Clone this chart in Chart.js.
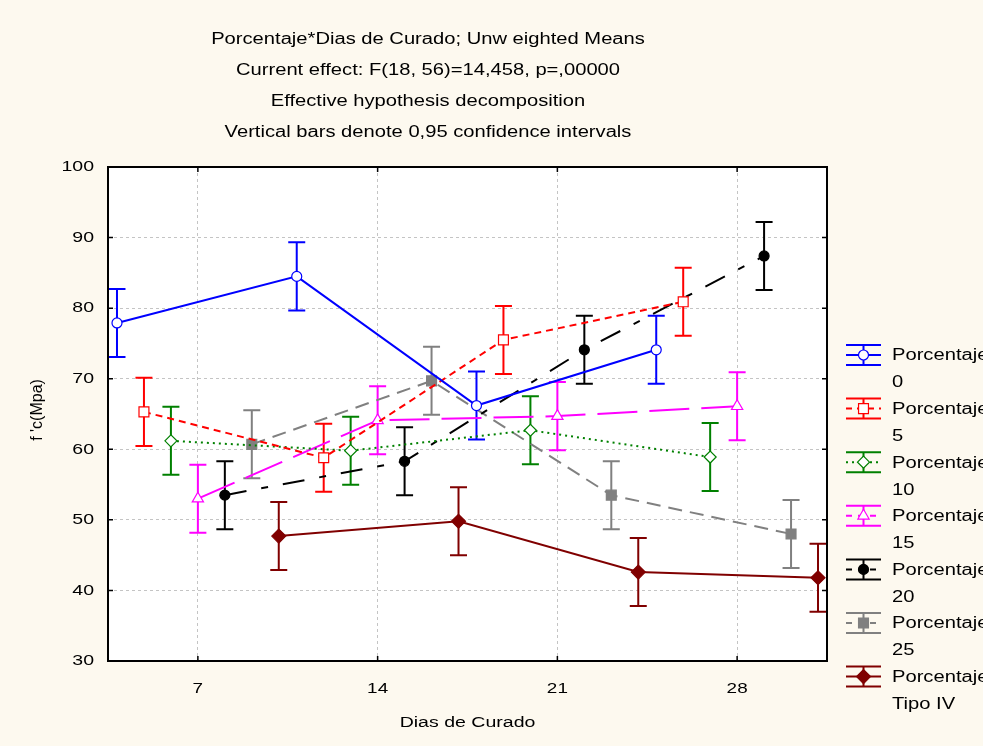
<!DOCTYPE html>
<html>
<head>
<meta charset="utf-8">
<script src="https://cdn.jsdelivr.net/npm/chart.js@4/dist/chart.umd.min.js"></script>
<style>
  body { margin: 0; background: #fdf9ef; }
  #wrap { width: 983px; height: 746px; }
</style>
</head>
<body>
<div id="wrap"><canvas id="myChart" width="983" height="746"></canvas></div>
<script>
const days = [7, 14, 21, 28];
const seriesNames = ["0", "5", "10", "15", "20", "25", "Tipo IV"];
const p0 = [77.9, 84.5, 66.2, 74.1];
const p5 = [65.3, 58.8, 75.5, 80.9];
const p10 = [61.2, 59.8, 62.7, 58.9];
const p15 = [53.0, 64.1, 64.7, 66.1];
const p20 = [53.5, 58.3, 74.1, 87.4];
const p25 = [60.7, 69.7, 53.5, 48.0];
const tipoIV = [47.7, 49.8, 42.6, 41.8];
const ciHalf = 4.82; // vertical bars = 0,95 confidence interval
const yTicks = [30, 40, 50, 60, 70, 80, 90, 100];
const titleLines = [
  "Porcentaje*Dias de Curado; Unw eighted Means",
  "Current effect: F(18, 56)=14,458, p=,00000",
  "Effective hypothesis decomposition",
  "Vertical bars denote 0,95 confidence intervals",
];

const FONT = '"Liberation Sans", Arial, sans-serif';
const SX = 1.26; // the original text is drawn wide

function wideText(ctx, text, x, y, align, size) {
  ctx.save();
  ctx.font = size + "px " + FONT;
  ctx.textBaseline = "middle";
  ctx.textAlign = "left";
  const w = ctx.measureText(text).width * SX;
  const left = align === "center" ? x - w / 2 : align === "right" ? x - w : x;
  ctx.translate(left, y);
  ctx.scale(SX, 1);
  ctx.fillText(text, 0, 0);
  ctx.restore();
}

const styles = [
  { color: "#0000ff", dash: [], point: "circle", r: 5, fill: "#ffffff" },
  { color: "#ff0000", dash: [7, 5], point: "rect", r: 7, fill: "#ffffff" },
  { color: "#008000", dash: [2, 4], point: "rectRot", r: 6, fill: "#ffffff" },
  { color: "#ff00ff", dash: [40, 12], point: "triangle", r: 6.5, fill: "#ffffff" },
  { color: "#000000", dash: [22, 15, 7, 15], point: "circle", r: 5, fill: "#000000" },
  { color: "#808080", dash: [14, 8], point: "rect", r: 7, fill: "#808080" },
  { color: "#800000", dash: [], point: "rectRot", r: 7, fill: "#800000" },
];

const allValues = [p0, p5, p10, p15, p20, p25, tipoIV];

// each group is spread sideways around its day so the bars don't overlap
const datasets = allValues.map((vals, i) => {
  const st = styles[i];
  const shift = (i - 3) * 1.05;
  return {
    label: "Porcentaje " + seriesNames[i],
    data: vals.map((v, j) => ({ x: days[j] + shift, y: v })),
    borderColor: st.color,
    borderWidth: 2,
    borderDash: st.dash,
    pointStyle: st.point,
    pointRadius: st.r,
    pointHoverRadius: st.r,
    pointBorderColor: st.color,
    pointBackgroundColor: st.fill,
    pointBorderWidth: 1.2,
    tension: 0,
  };
});

const errorBars = {
  id: "errorBars",
  beforeDatasetsDraw(chart) {
    const ctx = chart.ctx;
    const y = chart.scales.y;
    ctx.save();
    chart.data.datasets.forEach((ds, i) => {
      const meta = chart.getDatasetMeta(i);
      ctx.strokeStyle = ds.borderColor;
      ctx.lineWidth = 2;
      meta.data.forEach((pt, j) => {
        const v = ds.data[j].y;
        const top = y.getPixelForValue(v + ciHalf);
        const bot = y.getPixelForValue(v - ciHalf);
        ctx.beginPath();
        ctx.moveTo(pt.x, top); ctx.lineTo(pt.x, bot);
        ctx.moveTo(pt.x - 8.5, top); ctx.lineTo(pt.x + 8.5, top);
        ctx.moveTo(pt.x - 8.5, bot); ctx.lineTo(pt.x + 8.5, bot);
        ctx.stroke();
      });
    });
    ctx.restore();
  },
};

const decor = {
  id: "decor",
  beforeDraw(chart) {
    const a = chart.chartArea;
    const ctx = chart.ctx;
    ctx.save();
    ctx.fillStyle = "#fdf9ef";
    ctx.fillRect(0, 0, chart.width, chart.height);
    ctx.fillStyle = "#ffffff";
    ctx.fillRect(a.left, a.top, a.right - a.left, a.bottom - a.top);
    ctx.restore();
  },
  afterDraw(chart) {
    const a = chart.chartArea;
    const ctx = chart.ctx;
    const xs = chart.scales.x, ys = chart.scales.y;
    ctx.save();
    // frame and inner ticks
    ctx.strokeStyle = "#000";
    ctx.lineWidth = 2;
    ctx.strokeRect(a.left, a.top, a.right - a.left, a.bottom - a.top);
    ctx.lineWidth = 1.5;
    ctx.beginPath();
    xs.ticks.forEach(t => {
      const px = xs.getPixelForValue(t.value);
      ctx.moveTo(px, a.bottom); ctx.lineTo(px, a.bottom - 5);
      ctx.moveTo(px, a.top); ctx.lineTo(px, a.top + 5);
    });
    ys.ticks.forEach(t => {
      const py = ys.getPixelForValue(t.value);
      ctx.moveTo(a.left, py); ctx.lineTo(a.left + 5, py);
      ctx.moveTo(a.right, py); ctx.lineTo(a.right - 5, py);
    });
    ctx.stroke();

    // tick labels
    ctx.fillStyle = "#000";
    xs.ticks.forEach(t => wideText(ctx, String(t.value), xs.getPixelForValue(t.value), a.bottom + 28, "center", 15));
    ys.ticks.forEach(t => wideText(ctx, String(t.value), a.left - 14, ys.getPixelForValue(t.value), "right", 15.5));

    // titles
    titleLines.forEach((line, k) => wideText(ctx, line, 428, 40 + k * 30.7, "center", 16));
    wideText(ctx, "Dias de Curado", (a.left + a.right) / 2, 723, "center", 15.5);

    ctx.save();
    ctx.translate(38, 410);
    ctx.rotate(-Math.PI / 2);
    ctx.font = "16px " + FONT;
    ctx.textAlign = "center";
    ctx.textBaseline = "middle";
    ctx.fillText("f 'c(Mpa)", 0, 0);
    ctx.restore();

    // legend with error-bar glyphs
    chart.data.datasets.forEach((ds, i) => {
      const cy = 355 + i * 53.6;
      const x0 = 846, x1 = 881, xm = (x0 + x1) / 2;
      ctx.strokeStyle = ds.borderColor;
      ctx.lineWidth = 2;
      ctx.setLineDash([]);
      ctx.beginPath();
      ctx.moveTo(x0, cy - 10); ctx.lineTo(x1, cy - 10);
      ctx.moveTo(x0, cy + 10); ctx.lineTo(x1, cy + 10);
      ctx.moveTo(xm, cy - 10); ctx.lineTo(xm, cy + 10);
      ctx.stroke();
      ctx.setLineDash(ds.borderDash.map(d => Math.min(d, 6)));
      ctx.beginPath();
      ctx.moveTo(x0, cy); ctx.lineTo(x1, cy);
      ctx.stroke();
      ctx.setLineDash([]);
      ctx.fillStyle = ds.pointBackgroundColor;
      ctx.strokeStyle = ds.pointBorderColor;
      ctx.lineWidth = ds.pointBorderWidth;
      Chart.helpers.drawPoint(ctx, { pointStyle: ds.pointStyle, radius: ds.pointRadius, borderWidth: ds.pointBorderWidth }, xm, cy);
      ctx.fillStyle = "#000";
      wideText(ctx, "Porcentaje", 892, cy + 1, "left", 16);
      wideText(ctx, seriesNames[i], 892, cy + 28, "left", 16);
    });
    ctx.restore();
  },
};

new Chart(document.getElementById("myChart"), {
  type: "line",
  data: { datasets: datasets },
  options: {
    responsive: false,
    animation: false,
    layout: { padding: { left: 108, top: 167, right: 156, bottom: 85 } },
    plugins: { legend: { display: false }, title: { display: false }, tooltip: { enabled: false } },
    scales: {
      x: {
        type: "linear",
        min: 3.5,
        max: 31.5,
        afterBuildTicks: (scale) => { scale.ticks = days.map(v => ({ value: v })); },
        ticks: { display: false },
        grid: { color: "#c4c4c4", lineWidth: 1, drawTicks: false },
        border: { display: false, dash: [3, 3] },
      },
      y: {
        min: 30,
        max: 100,
        afterBuildTicks: (scale) => { scale.ticks = yTicks.map(v => ({ value: v })); },
        ticks: { display: false },
        grid: { color: "#c4c4c4", lineWidth: 1, drawTicks: false },
        border: { display: false, dash: [3, 3] },
      },
    },
  },
  plugins: [decor, errorBars],
});
</script>
</body>
</html>
